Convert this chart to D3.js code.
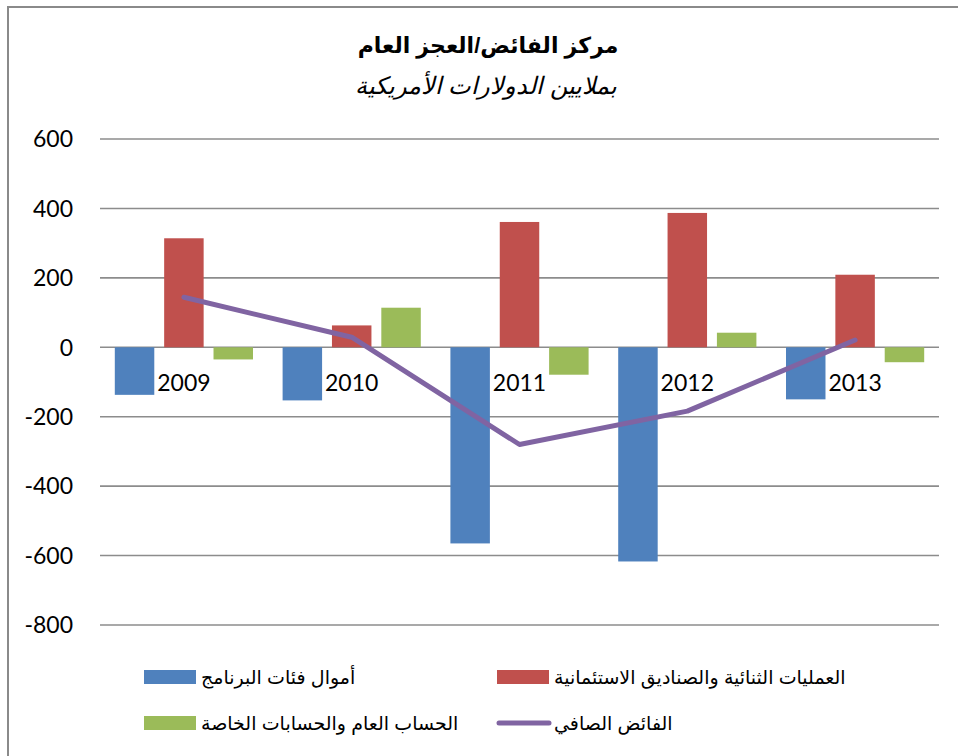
<!DOCTYPE html>
<html>
<head>
<meta charset="utf-8">
<script src="https://cdn.jsdelivr.net/npm/d3@7"></script>
<style>
  body { margin: 0; background: #fff; }
  svg { display: block; }
</style>
</head>
<body>
<script>
var years = ["2009", "2010", "2011", "2012", "2013"];
var seriesNames = [
  "أموال فئات البرنامج",
  "العمليات الثنائية والصناديق الاستئمانية",
  "الحساب العام والحسابات الخاصة"
];
var programFunds = [-137, -153, -565, -617, -150];
var bilateralTrust = [314, 63, 361, 387, 209];
var generalSpecial = [-35, 114, -79, 42, -43];
var netSurplus = [144, 29, -280, -184, 21];
var netName = "الفائض الصافي";
var yTicks = [600, 400, 200, 0, -200, -400, -600, -800];

var barColors = ["#4f81bd", "#c0504d", "#9bbb59"];
var lineColor = "#8064a2";

var width = 958, height = 756;
var margin = {top: 139, left: 100, right: 19, bottom: 131};

var svg = d3.select("body").append("svg")
    .attr("width", width)
    .attr("height", height);

// outer chart border (right and bottom edges fall outside the picture)
svg.append("rect")
    .attr("x", 8).attr("y", 7)
    .attr("width", 1000).attr("height", 800)
    .attr("fill", "none")
    .attr("stroke", "#8a8a8a")
    .attr("stroke-width", 2);

var x = d3.scaleBand()
    .domain(years)
    .range([margin.left, width - margin.right]);

var xInner = d3.scaleBand()
    .domain([0, 1, 2])
    .range([0, x.bandwidth()])
    .paddingInner(0.2)
    .paddingOuter(0.3);

var y = d3.scaleLinear()
    .domain([-800, 600])
    .range([height - margin.bottom, margin.top]);

// gridlines
svg.append("g").selectAll("line")
    .data(yTicks)
    .enter().append("line")
    .attr("x1", margin.left)
    .attr("x2", width - margin.right)
    .attr("y1", function(d) { return y(d); })
    .attr("y2", function(d) { return y(d); })
    .attr("stroke", "#8c8c8c")
    .attr("stroke-width", 1.6);

// y labels
svg.append("g").selectAll("text")
    .data(yTicks)
    .enter().append("text")
    .attr("x", 73)
    .attr("y", function(d) { return y(d); })
    .attr("dy", "0.36em")
    .attr("text-anchor", "end")
    .style("font-family", "Lato, 'Open Sans', sans-serif")
    .style("font-size", "23px")
    .attr("fill", "#000")
    .text(function(d) { return d; });

var allSeries = [programFunds, bilateralTrust, generalSpecial];

allSeries.forEach(function(vals, si) {
  svg.append("g").selectAll("rect")
      .data(vals)
      .enter().append("rect")
      .attr("x", function(d, i) { return x(years[i]) + xInner(si); })
      .attr("width", xInner.bandwidth())
      .attr("y", function(d) { return y(Math.max(0, d)); })
      .attr("height", function(d) { return Math.abs(y(d) - y(0)); })
      .attr("fill", barColors[si]);
});

// category labels sit just under the zero line
svg.append("g").selectAll("text")
    .data(years)
    .enter().append("text")
    .attr("x", function(d) { return x(d) + x.bandwidth() / 2; })
    .attr("y", y(0) + 44)
    .attr("text-anchor", "middle")
    .style("font-family", "Lato, 'Open Sans', sans-serif")
    .style("font-size", "23px")
    .attr("fill", "#000")
    .text(function(d) { return d; });

var line = d3.line()
    .x(function(d, i) { return x(years[i]) + x.bandwidth() / 2; })
    .y(function(d) { return y(d); });

svg.append("path")
    .datum(netSurplus)
    .attr("d", line)
    .attr("fill", "none")
    .attr("stroke", lineColor)
    .attr("stroke-width", 5)
    .attr("stroke-linejoin", "round")
    .attr("stroke-linecap", "round");

// title
svg.append("text")
    .attr("x", 488).attr("y", 53)
    .attr("text-anchor", "middle")
    .style("font-family", "Arial, 'DejaVu Sans', sans-serif")
    .style("font-weight", "bold")
    .style("font-size", "22px")
    .text("مركز الفائض/العجز العام");

svg.append("text")
    .attr("x", 486).attr("y", 94)
    .attr("text-anchor", "middle")
    .style("font-family", "Arial, 'DejaVu Sans', sans-serif")
    .style("font-style", "italic")
    .style("font-size", "24px")
    .text("بملايين الدولارات الأمريكية");

// legend
var legendItems = [
  {name: seriesNames[0], color: barColors[0], kind: "bar", x: 144, y: 677},
  {name: seriesNames[1], color: barColors[1], kind: "bar", x: 497, y: 677},
  {name: seriesNames[2], color: barColors[2], kind: "bar", x: 144, y: 723},
  {name: netName, color: lineColor, kind: "line", x: 497, y: 723}
];

var legend = svg.append("g").selectAll("g")
    .data(legendItems)
    .enter().append("g")
    .attr("transform", function(d) { return "translate(" + d.x + "," + d.y + ")"; });

legend.filter(function(d) { return d.kind === "bar"; })
    .append("rect")
    .attr("x", 0).attr("y", -7)
    .attr("width", 52).attr("height", 14)
    .attr("fill", function(d) { return d.color; });

legend.filter(function(d) { return d.kind === "line"; })
    .append("line")
    .attr("x1", 2).attr("x2", 52)
    .attr("y1", 0).attr("y2", 0)
    .attr("stroke", function(d) { return d.color; })
    .attr("stroke-width", 5)
    .attr("stroke-linecap", "round");

legend.append("text")
    .attr("x", 57)
    .attr("dy", "0.35em")
    .style("font-family", "Arial, 'DejaVu Sans', sans-serif")
    .style("font-size", "19px")
    .attr("fill", "#000")
    .text(function(d) { return d.name; });
</script>
</body>
</html>
